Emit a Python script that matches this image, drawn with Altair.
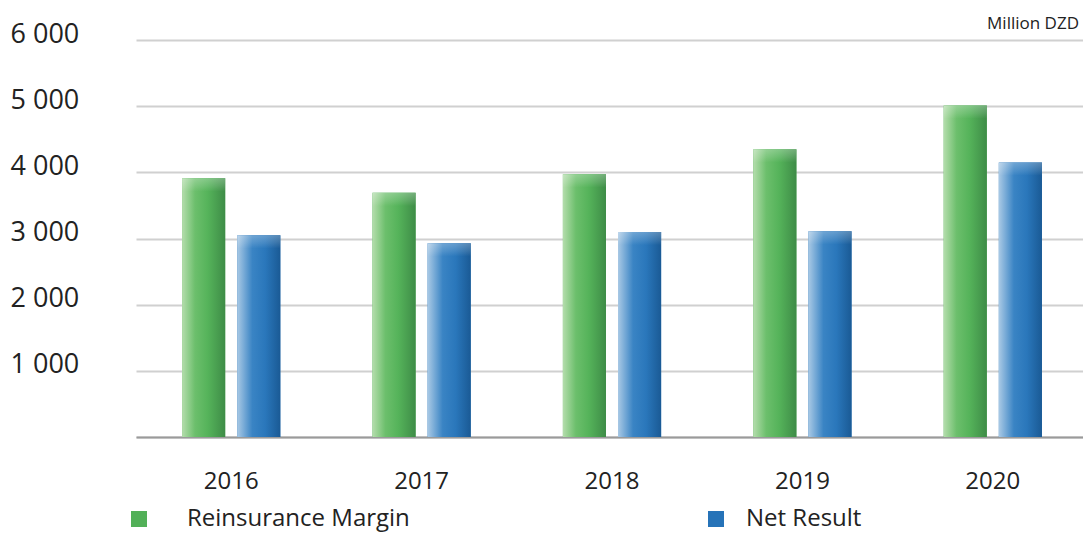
import altair as alt
import pandas as pd

years = ["2016", "2017", "2018", "2019", "2020"]
reinsurance_margin = [3910, 3690, 3970, 4350, 5010]
net_result = [3050, 2930, 3100, 3110, 4150]
series_names = ["Reinsurance Margin", "Net Result"]
series_colors = ["#52b058", "#2673b8"]
y_ticks = [0, 1000, 2000, 3000, 4000, 5000, 6000]

rows = []
for yr, a, b in zip(years, reinsurance_margin, net_result):
    rows.append({"year": yr, "series": series_names[0], "value": a})
    rows.append({"year": yr, "series": series_names[1], "value": b})
df = pd.DataFrame(rows)

FONT = "Open Sans"

green_grad = alt.LinearGradient(
    gradient="linear", x1=0, x2=1, y1=0, y2=0,
    stops=[
        alt.GradientStop(color="#b4ddac", offset=0),
        alt.GradientStop(color="#6cbf6c", offset=0.3),
        alt.GradientStop(color="#55b35a", offset=0.6),
        alt.GradientStop(color="#3e8c47", offset=1),
    ],
)
blue_grad = alt.LinearGradient(
    gradient="linear", x1=0, x2=1, y1=0, y2=0,
    stops=[
        alt.GradientStop(color="#a9c9e5", offset=0),
        alt.GradientStop(color="#3a84c4", offset=0.35),
        alt.GradientStop(color="#2a77bb", offset=0.65),
        alt.GradientStop(color="#1a5a95", offset=1),
    ],
)
top_shine = alt.LinearGradient(
    gradient="linear", x1=0, x2=0, y1=0, y2=1,
    stops=[
        alt.GradientStop(color="rgba(255,255,255,0.28)", offset=0),
        alt.GradientStop(color="rgba(255,255,255,0.12)", offset=0.6),
        alt.GradientStop(color="rgba(255,255,255,0)", offset=1),
    ],
)

x_enc = alt.X(
    "year:N",
    sort=years,
    scale=alt.Scale(range=[0, 952], paddingInner=0.484, paddingOuter=0.242),
    axis=alt.Axis(
        title=None, labelAngle=0, ticks=False, tickSize=0, grid=False,
        labelFont=FONT, labelFontSize=24, labelColor="#222222",
        labelBaseline="alphabetic", labelPadding=51,
        domainColor="#9a9a9a", domainWidth=2,
    ),
)
xo_enc = alt.XOffset(
    "series:N",
    sort=series_names,
    scale=alt.Scale(domain=series_names, paddingInner=0.218, paddingOuter=0),
)
y_scale = alt.Scale(domain=[0, 6000], nice=False)
y_enc = alt.Y(
    "value:Q",
    scale=y_scale,
    axis=alt.Axis(
        title=None, values=y_ticks, ticks=False, tickSize=0, domain=False,
        labelFont=FONT, labelFontSize=27, labelColor="#222222",
        labelAlign="left", labelBaseline="alphabetic", labelOffset=2,
        labelPadding=126,
        labelExpr="datum.value == 0 ? '' : replace(format(datum.value, ','), ',', ' ')",
        gridColor="#d0d0d0", gridWidth=2,
    ),
)


def legend_for(x_pos, label_offset):
    return alt.Legend(
        title=None, orient="none", legendX=x_pos, legendY=467,
        direction="horizontal", symbolType="square", symbolSize=256,
        symbolStrokeWidth=0, labelFont=FONT, labelFontSize=24,
        labelColor="#222222", labelOffset=label_offset, labelLimit=400,
        labelBaseline="middle",
    )


base = alt.Chart(df)

green_under = base.mark_bar().encode(
    x=x_enc, xOffset=xo_enc, y=y_enc,
    color=alt.Color(
        "series:N",
        scale=alt.Scale(domain=[series_names[0]], range=[series_colors[0]]),
        legend=legend_for(-9, 36),
    ),
).transform_filter(alt.datum.series == series_names[0])

blue_under = base.mark_bar().encode(
    x=x_enc, xOffset=xo_enc, y=y_enc,
    fill=alt.Fill(
        "series:N",
        scale=alt.Scale(domain=[series_names[1]], range=[series_colors[1]]),
        legend=legend_for(568, 18),
    ),
).transform_filter(alt.datum.series == series_names[1])

green_layer = base.mark_bar(color=green_grad).encode(
    x=x_enc, xOffset=xo_enc, y=y_enc
).transform_filter(alt.datum.series == series_names[0])

blue_layer = base.mark_bar(color=blue_grad).encode(
    x=x_enc, xOffset=xo_enc, y=y_enc
).transform_filter(alt.datum.series == series_names[1])

shine_layer = base.transform_calculate(
    shine_bottom="datum.value - 200"
).mark_bar(color=top_shine).encode(
    x=x_enc, xOffset=xo_enc,
    y=alt.Y("value:Q", scale=y_scale),
    y2="shine_bottom:Q",
)

chart = alt.layer(
    green_under, blue_under, green_layer, blue_layer, shine_layer
).resolve_scale(
    color="independent", fill="independent"
).properties(
    width=947,
    height=397,
    autosize=alt.AutoSizeParams(type="none"),
    padding={"left": 128, "top": 32, "right": 0, "bottom": 95},
    title=alt.TitleParams(
        "Million DZD", anchor="end", orient="top", frame="group",
        font=FONT, fontSize=17, fontWeight="normal", color="#222222",
        baseline="alphabetic", offset=13, dx=-4, dy=39,
    ),
).configure_view(stroke=None)

chart.save("out.html", embed_options={"renderer": "svg", "actions": False})
